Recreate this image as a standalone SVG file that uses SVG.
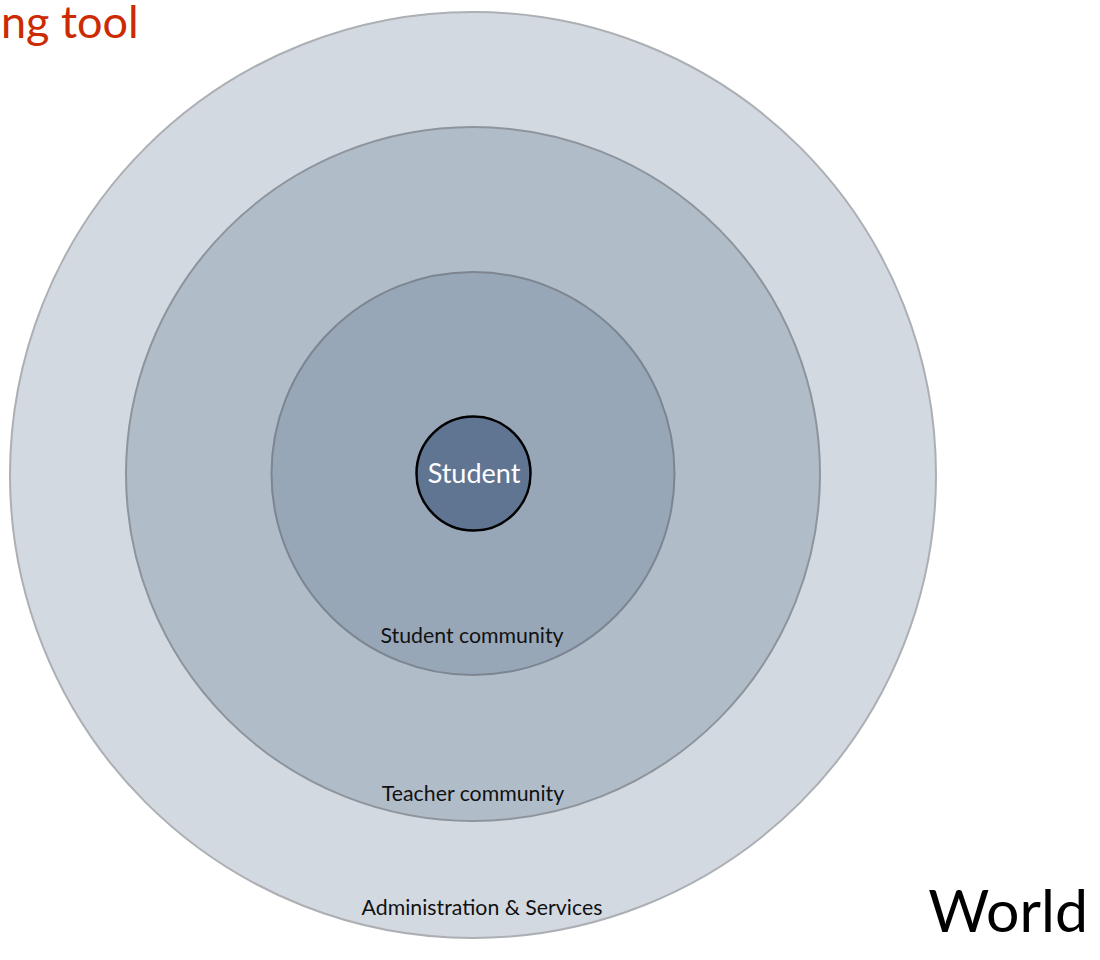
<svg xmlns="http://www.w3.org/2000/svg" width="1100" height="960" viewBox="0 0 1100 960">
<style>
.lbl{font-family:Lato,"Noto Sans","DejaVu Sans",sans-serif;fill:#111;text-anchor:middle;font-size:21.3px}
.ring{stroke-width:2}
</style>
<rect width="1100" height="960" fill="#ffffff"/>
<text x="1" y="38" font-family="Lato,'Noto Sans',sans-serif" font-size="45" fill="#cc2a00">ng tool</text>
<g id="world">
<circle class="ring" cx="473" cy="475" r="463" fill="#d3d9e1" stroke="#acafb3"/>
<text class="lbl" x="482" y="915">Administration &amp; Services</text>
</g>
<g id="teacher">
<circle class="ring" cx="473" cy="474" r="347" fill="#b1bcc9" stroke="#8e949b"/>
<text class="lbl" x="473" y="801">Teacher community</text>
</g>
<g id="studentcommunity">
<circle class="ring" cx="473" cy="473.5" r="201.5" fill="#98a7b8" stroke="#7c8590"/>
<text class="lbl" x="472" y="643">Student community</text>
</g>
<g id="student">
<circle cx="473.5" cy="473.5" r="57" fill="#5f7591" stroke="#000" stroke-width="2.5"/>
<text x="474" y="483" font-family="Lato,'Noto Sans',sans-serif" font-size="27" fill="#ffffff" text-anchor="middle">Student</text>
</g>
<g id="connectors"></g>
<text x="1088" y="932" font-family="Lato,'Noto Sans',sans-serif" font-size="59" fill="#000" text-anchor="end">World</text>
</svg>
